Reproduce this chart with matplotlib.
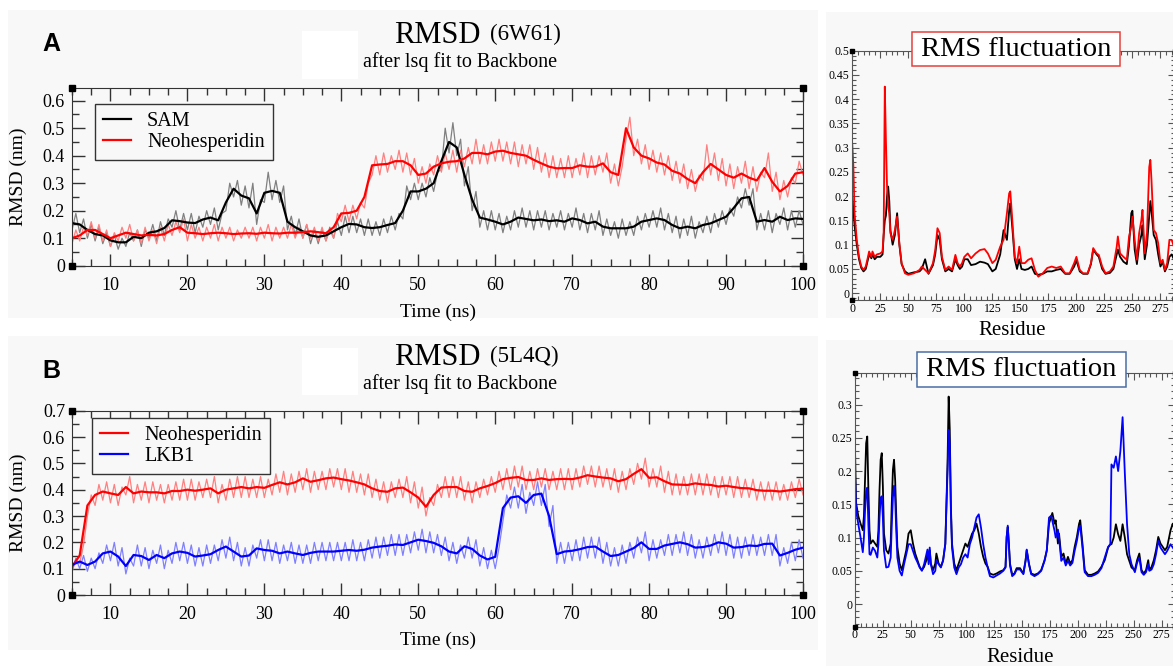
import numpy as np
import matplotlib.pyplot as plt
from matplotlib.patches import Rectangle
from matplotlib.ticker import MultipleLocator, FuncFormatter

plt.rcParams['font.family'] = ['Liberation Serif', 'DejaVu Serif']

W, H = 1173, 666

# ---- RMSD data (nm), time in ns ----
t_avg = np.arange(5, 101, 1)          # running average, every 1 ns
t_raw = np.arange(5, 100.01, 0.5)     # raw trace, every 0.5 ns

# panel A (6W61)
sam_avg = [0.155, 0.15, 0.13, 0.115, 0.11, 0.092, 0.085, 0.085, 0.105, 0.1,
           0.12, 0.125, 0.137, 0.165, 0.162, 0.157, 0.155, 0.168, 0.175, 0.165,
           0.23, 0.28, 0.255, 0.245, 0.19, 0.265, 0.272, 0.265, 0.16, 0.14,
           0.125, 0.11, 0.105, 0.11, 0.125, 0.14, 0.152, 0.15, 0.14, 0.137,
           0.14, 0.148, 0.155, 0.2, 0.27, 0.27, 0.28, 0.3, 0.38, 0.45,
           0.43, 0.33, 0.24, 0.175, 0.168, 0.16, 0.15, 0.16, 0.175, 0.17,
           0.165, 0.168, 0.162, 0.165, 0.16, 0.172, 0.166, 0.154, 0.16, 0.142,
           0.136, 0.136, 0.136, 0.142, 0.16, 0.166, 0.172, 0.166, 0.148, 0.136,
           0.142, 0.136, 0.148, 0.154, 0.166, 0.178, 0.21, 0.245, 0.25, 0.16,
           0.166, 0.16, 0.178, 0.166, 0.172, 0.17]
sam_raw = [0.13, 0.19, 0.12, 0.17, 0.10, 0.15, 0.09, 0.14, 0.08, 0.12,
           0.07, 0.11, 0.06, 0.10, 0.07, 0.12, 0.09, 0.13, 0.07, 0.13,
           0.10, 0.15, 0.09, 0.16, 0.11, 0.17, 0.14, 0.20, 0.13, 0.19,
           0.13, 0.19, 0.12, 0.18, 0.14, 0.20, 0.15, 0.21, 0.13, 0.19,
           0.20, 0.30, 0.25, 0.31, 0.22, 0.29, 0.21, 0.30, 0.15, 0.24,
           0.23, 0.34, 0.24, 0.31, 0.23, 0.29, 0.13, 0.18, 0.11, 0.17,
           0.10, 0.15, 0.08, 0.13, 0.08, 0.13, 0.09, 0.14, 0.10, 0.16,
           0.11, 0.18, 0.12, 0.18, 0.12, 0.17, 0.11, 0.17, 0.11, 0.16,
           0.11, 0.17, 0.12, 0.18, 0.13, 0.19, 0.17, 0.29, 0.24, 0.30,
           0.24, 0.30, 0.25, 0.32, 0.27, 0.34, 0.35, 0.50, 0.41, 0.52,
           0.40, 0.46, 0.29, 0.36, 0.20, 0.27, 0.14, 0.20, 0.13, 0.20,
           0.13, 0.19, 0.12, 0.18, 0.13, 0.20, 0.14, 0.21, 0.14, 0.20,
           0.13, 0.20, 0.14, 0.20, 0.13, 0.19, 0.14, 0.20, 0.13, 0.19,
           0.14, 0.21, 0.13, 0.19, 0.12, 0.19, 0.13, 0.20, 0.11, 0.17,
           0.11, 0.16, 0.10, 0.17, 0.11, 0.16, 0.11, 0.18, 0.13, 0.19,
           0.14, 0.20, 0.14, 0.21, 0.13, 0.19, 0.12, 0.18, 0.10, 0.17,
           0.11, 0.18, 0.10, 0.16, 0.12, 0.18, 0.12, 0.19, 0.14, 0.20,
           0.15, 0.21, 0.18, 0.25, 0.21, 0.28, 0.22, 0.28, 0.13, 0.19,
           0.13, 0.20, 0.12, 0.19, 0.15, 0.21, 0.13, 0.20, 0.14, 0.20,
           0.15]
neoA_avg = [0.1, 0.11, 0.13, 0.13, 0.115, 0.1, 0.11, 0.12, 0.115, 0.11,
            0.112, 0.11, 0.115, 0.13, 0.14, 0.12, 0.118, 0.115, 0.118, 0.12,
            0.118, 0.115, 0.117, 0.118, 0.116, 0.12, 0.118, 0.117, 0.12, 0.12,
            0.122, 0.125, 0.122, 0.118, 0.14, 0.19, 0.192, 0.2, 0.25, 0.365,
            0.368, 0.37, 0.38, 0.38, 0.365, 0.33, 0.335, 0.36, 0.372, 0.378,
            0.38, 0.39, 0.41, 0.41, 0.405, 0.415, 0.418, 0.41, 0.405, 0.4,
            0.385, 0.372, 0.36, 0.354, 0.355, 0.355, 0.365, 0.36, 0.36, 0.372,
            0.34, 0.33, 0.5, 0.43, 0.4, 0.39, 0.375, 0.368, 0.345, 0.335,
            0.315, 0.3, 0.34, 0.37, 0.35, 0.33, 0.32, 0.335, 0.32, 0.31,
            0.355, 0.305, 0.27, 0.29, 0.335, 0.34]
neoA_raw = [0.08, 0.13, 0.09, 0.14, 0.11, 0.16, 0.10, 0.15, 0.09, 0.13,
            0.07, 0.12, 0.09, 0.14, 0.10, 0.15, 0.09, 0.13, 0.08, 0.14,
            0.09, 0.13, 0.08, 0.14, 0.09, 0.15, 0.11, 0.16, 0.12, 0.17,
            0.09, 0.15, 0.10, 0.14, 0.09, 0.14, 0.10, 0.15, 0.09, 0.14,
            0.10, 0.14, 0.09, 0.13, 0.10, 0.14, 0.10, 0.14, 0.09, 0.14,
            0.10, 0.15, 0.09, 0.14, 0.10, 0.14, 0.10, 0.15, 0.10, 0.14,
            0.10, 0.15, 0.10, 0.14, 0.09, 0.14, 0.09, 0.13, 0.10, 0.19,
            0.16, 0.22, 0.16, 0.22, 0.17, 0.23, 0.21, 0.30, 0.33, 0.40,
            0.33, 0.41, 0.34, 0.40, 0.35, 0.42, 0.34, 0.41, 0.33, 0.39,
            0.30, 0.36, 0.30, 0.37, 0.33, 0.40, 0.34, 0.41, 0.35, 0.42,
            0.34, 0.42, 0.36, 0.43, 0.37, 0.46, 0.37, 0.44, 0.37, 0.45,
            0.38, 0.46, 0.38, 0.45, 0.37, 0.45, 0.36, 0.44, 0.37, 0.44,
            0.35, 0.43, 0.34, 0.41, 0.32, 0.40, 0.32, 0.39, 0.32, 0.40,
            0.32, 0.39, 0.33, 0.41, 0.32, 0.40, 0.33, 0.40, 0.34, 0.41,
            0.30, 0.37, 0.29, 0.36, 0.46, 0.54, 0.40, 0.46, 0.37, 0.44,
            0.35, 0.42, 0.34, 0.41, 0.33, 0.40, 0.31, 0.38, 0.30, 0.37,
            0.28, 0.35, 0.27, 0.33, 0.31, 0.44, 0.33, 0.41, 0.31, 0.39,
            0.29, 0.37, 0.28, 0.36, 0.30, 0.38, 0.28, 0.36, 0.27, 0.34,
            0.32, 0.41, 0.27, 0.34, 0.24, 0.31, 0.25, 0.32, 0.30, 0.38,
            0.33]

# panel B (5L4Q)
neoB_avg = [0.108, 0.15, 0.34, 0.38, 0.393, 0.386, 0.38, 0.41, 0.386, 0.393,
            0.39, 0.39, 0.386, 0.395, 0.395, 0.4, 0.396, 0.4, 0.405, 0.386,
            0.4, 0.405, 0.41, 0.405, 0.41, 0.407, 0.418, 0.428, 0.42, 0.428,
            0.443, 0.43, 0.436, 0.443, 0.446, 0.44, 0.435, 0.428, 0.42, 0.405,
            0.395, 0.392, 0.405, 0.408, 0.39, 0.37, 0.335, 0.38, 0.408, 0.41,
            0.41, 0.395, 0.392, 0.405, 0.414, 0.425, 0.44, 0.445, 0.448, 0.437,
            0.437, 0.443, 0.437, 0.44, 0.441, 0.44, 0.446, 0.455, 0.45, 0.446,
            0.443, 0.432, 0.44, 0.46, 0.478, 0.445, 0.447, 0.432, 0.42, 0.419,
            0.418, 0.424, 0.42, 0.418, 0.412, 0.415, 0.41, 0.406, 0.405, 0.398,
            0.396, 0.396, 0.393, 0.397, 0.402, 0.404]
neoB_raw = [0.09, 0.13, 0.12, 0.19, 0.30, 0.38, 0.34, 0.42, 0.36, 0.43,
            0.35, 0.42, 0.34, 0.41, 0.38, 0.45, 0.35, 0.42, 0.36, 0.43,
            0.35, 0.43, 0.36, 0.42, 0.35, 0.42, 0.36, 0.43, 0.36, 0.44,
            0.36, 0.44, 0.36, 0.43, 0.37, 0.44, 0.37, 0.45, 0.35, 0.42,
            0.36, 0.44, 0.37, 0.45, 0.37, 0.45, 0.37, 0.44, 0.37, 0.45,
            0.37, 0.44, 0.38, 0.46, 0.39, 0.47, 0.38, 0.46, 0.39, 0.47,
            0.40, 0.48, 0.39, 0.47, 0.40, 0.47, 0.40, 0.48, 0.41, 0.48,
            0.40, 0.48, 0.39, 0.47, 0.39, 0.46, 0.38, 0.46, 0.37, 0.44,
            0.36, 0.43, 0.35, 0.43, 0.37, 0.44, 0.37, 0.45, 0.35, 0.43,
            0.33, 0.41, 0.30, 0.37, 0.34, 0.42, 0.37, 0.45, 0.37, 0.45,
            0.37, 0.45, 0.36, 0.43, 0.35, 0.43, 0.37, 0.44, 0.38, 0.45,
            0.39, 0.47, 0.40, 0.48, 0.40, 0.49, 0.41, 0.49, 0.40, 0.47,
            0.40, 0.48, 0.41, 0.48, 0.40, 0.47, 0.40, 0.48, 0.40, 0.48,
            0.40, 0.48, 0.41, 0.49, 0.42, 0.49, 0.41, 0.49, 0.41, 0.48,
            0.40, 0.48, 0.39, 0.47, 0.40, 0.48, 0.42, 0.50, 0.44, 0.52,
            0.41, 0.48, 0.41, 0.49, 0.39, 0.47, 0.38, 0.46, 0.38, 0.45,
            0.38, 0.46, 0.38, 0.46, 0.38, 0.46, 0.38, 0.45, 0.37, 0.45,
            0.38, 0.45, 0.37, 0.45, 0.37, 0.44, 0.37, 0.44, 0.36, 0.43,
            0.36, 0.43, 0.36, 0.43, 0.36, 0.42, 0.36, 0.43, 0.37, 0.44,
            0.38]
lkb1_avg = [0.114, 0.127, 0.114, 0.127, 0.158, 0.165, 0.146, 0.11, 0.152, 0.148,
            0.133, 0.152, 0.14, 0.158, 0.165, 0.16, 0.146, 0.15, 0.155, 0.171,
            0.184, 0.165, 0.146, 0.15, 0.177, 0.171, 0.168, 0.158, 0.165, 0.158,
            0.152, 0.16, 0.165, 0.165, 0.165, 0.168, 0.171, 0.168, 0.172, 0.18,
            0.184, 0.187, 0.192, 0.19, 0.2, 0.21, 0.205, 0.198, 0.185, 0.165,
            0.158, 0.185, 0.175, 0.15, 0.135, 0.145, 0.33, 0.37, 0.375, 0.35,
            0.38, 0.385, 0.3, 0.155, 0.165, 0.168, 0.174, 0.182, 0.184, 0.165,
            0.148, 0.152, 0.165, 0.178, 0.2, 0.175, 0.175, 0.188, 0.194, 0.2,
            0.193, 0.18, 0.182, 0.188, 0.2, 0.195, 0.18, 0.182, 0.188, 0.186,
            0.194, 0.195, 0.15, 0.16, 0.172, 0.18]
lkb1_raw = [0.09, 0.14, 0.10, 0.15, 0.09, 0.14, 0.10, 0.16, 0.12, 0.19,
            0.13, 0.20, 0.11, 0.18, 0.08, 0.14, 0.11, 0.19, 0.11, 0.18,
            0.10, 0.17, 0.12, 0.19, 0.10, 0.17, 0.12, 0.20, 0.13, 0.20,
            0.12, 0.19, 0.11, 0.18, 0.11, 0.19, 0.12, 0.19, 0.13, 0.21,
            0.14, 0.22, 0.13, 0.20, 0.11, 0.18, 0.11, 0.19, 0.14, 0.21,
            0.13, 0.21, 0.13, 0.20, 0.12, 0.19, 0.13, 0.20, 0.12, 0.19,
            0.12, 0.19, 0.12, 0.20, 0.13, 0.20, 0.13, 0.20, 0.13, 0.20,
            0.13, 0.20, 0.13, 0.21, 0.13, 0.20, 0.13, 0.21, 0.14, 0.22,
            0.14, 0.22, 0.15, 0.23, 0.15, 0.23, 0.15, 0.23, 0.16, 0.24,
            0.17, 0.25, 0.16, 0.24, 0.16, 0.23, 0.15, 0.22, 0.13, 0.20,
            0.12, 0.19, 0.14, 0.22, 0.14, 0.21, 0.11, 0.18, 0.10, 0.17,
            0.10, 0.18, 0.28, 0.38, 0.33, 0.41, 0.33, 0.42, 0.31, 0.39,
            0.34, 0.43, 0.34, 0.42, 0.26, 0.34, 0.12, 0.20, 0.12, 0.20,
            0.13, 0.21, 0.13, 0.22, 0.14, 0.22, 0.14, 0.22, 0.12, 0.20,
            0.11, 0.18, 0.11, 0.19, 0.12, 0.20, 0.14, 0.22, 0.16, 0.24,
            0.13, 0.21, 0.14, 0.21, 0.15, 0.23, 0.15, 0.23, 0.16, 0.24,
            0.15, 0.23, 0.14, 0.21, 0.14, 0.22, 0.15, 0.23, 0.16, 0.24,
            0.15, 0.23, 0.14, 0.22, 0.14, 0.22, 0.15, 0.23, 0.15, 0.22,
            0.15, 0.23, 0.15, 0.23, 0.11, 0.18, 0.12, 0.20, 0.13, 0.21,
            0.14]

# ---- RMSF data (nm) per residue ----
res_top = [0, 1, 2, 4, 6, 8, 10, 12, 14, 15,
           17, 18, 20, 22, 25, 27, 28, 29, 30, 31,
           32, 33, 34, 36, 38, 40, 42, 44, 47, 50,
           55, 60, 62, 65, 68, 72, 74, 76, 78, 80,
           83, 86, 89, 92, 94, 96, 98, 100, 103, 106,
           110, 114, 118, 121, 125, 128, 132, 135, 138, 140,
           141, 143, 145, 147, 149, 151, 154, 157, 160, 163,
           166, 170, 174, 178, 182, 186, 190, 194, 198, 200,
           203, 206, 210, 213, 215, 218, 220, 223, 226, 230,
           233, 236, 237, 239, 242, 245, 247, 249, 250, 252,
           254, 256, 258, 259, 261, 263, 265, 266, 267, 269,
           271, 273, 275, 277, 279, 281, 283, 285, 287, 290]
rmsf_top_neo = [0.306, 0.26, 0.165, 0.11, 0.075, 0.055, 0.048, 0.055, 0.075, 0.086,
                0.075, 0.086, 0.075, 0.08, 0.082, 0.086, 0.124, 0.426, 0.316, 0.22,
                0.179, 0.165, 0.124, 0.11, 0.13, 0.158, 0.103, 0.062, 0.041, 0.038,
                0.041, 0.048, 0.055, 0.048, 0.041, 0.062, 0.089, 0.134, 0.124, 0.075,
                0.048, 0.055, 0.048, 0.079, 0.062, 0.055, 0.062, 0.075, 0.082, 0.072,
                0.082, 0.089, 0.091, 0.082, 0.062, 0.069, 0.096, 0.11, 0.165, 0.206,
                0.21, 0.144, 0.075, 0.062, 0.096, 0.062, 0.062, 0.069, 0.072, 0.048,
                0.034, 0.041, 0.052, 0.055, 0.052, 0.055, 0.041, 0.041, 0.062, 0.075,
                0.048, 0.041, 0.041, 0.062, 0.093, 0.082, 0.079, 0.055, 0.041, 0.045,
                0.055, 0.096, 0.117, 0.082, 0.075, 0.069, 0.117, 0.137, 0.158, 0.11,
                0.069, 0.124, 0.151, 0.172, 0.082, 0.124, 0.26, 0.275, 0.234, 0.13,
                0.124, 0.103, 0.062, 0.069, 0.048, 0.062, 0.11, 0.11, 0.096, 0.09]
rmsf_top_sam = [0.2, 0.17, 0.14, 0.1, 0.07, 0.052, 0.045, 0.05, 0.07, 0.08,
                0.072, 0.08, 0.07, 0.075, 0.075, 0.08, 0.12, 0.15, 0.16, 0.2,
                0.22, 0.19, 0.13, 0.1, 0.12, 0.165, 0.1, 0.06, 0.045, 0.04,
                0.043, 0.045, 0.05, 0.07, 0.04, 0.058, 0.08, 0.12, 0.11, 0.07,
                0.045, 0.05, 0.045, 0.07, 0.058, 0.05, 0.055, 0.07, 0.07, 0.058,
                0.06, 0.065, 0.063, 0.06, 0.045, 0.05, 0.08, 0.13, 0.11, 0.17,
                0.185, 0.13, 0.07, 0.05, 0.07, 0.05, 0.048, 0.05, 0.055, 0.04,
                0.038, 0.04, 0.045, 0.045, 0.048, 0.05, 0.04, 0.04, 0.055, 0.068,
                0.045, 0.04, 0.04, 0.06, 0.09, 0.08, 0.075, 0.05, 0.04, 0.042,
                0.05, 0.08, 0.09, 0.075, 0.065, 0.06, 0.1, 0.165, 0.17, 0.09,
                0.06, 0.1, 0.12, 0.14, 0.07, 0.1, 0.16, 0.19, 0.17, 0.12,
                0.11, 0.08, 0.055, 0.065, 0.045, 0.055, 0.075, 0.08, 0.07, 0.07]

res_bot = [0, 1, 3, 5, 7, 8, 9, 10, 11, 12,
           13, 14, 16, 18, 20, 21, 22, 23, 24, 25,
           26, 28, 30, 32, 33, 34, 35, 36, 37, 38,
           40, 42, 44, 46, 48, 50, 52, 54, 56, 58,
           60, 62, 64, 65, 66, 67, 68, 70, 72, 73,
           75, 77, 79, 81, 83, 84, 85, 86, 87, 89,
           91, 93, 95, 97, 99, 101, 103, 105, 107, 109,
           111, 113, 115, 117, 119, 121, 124, 127, 130, 133,
           135, 136, 137, 138, 139, 141, 143, 145, 148, 151,
           153, 154, 156, 158, 161, 164, 167, 170, 172, 174,
           176, 177, 179, 180, 182, 183, 185, 187, 189, 191,
           193, 195, 197, 199, 201, 202, 204, 206, 209, 212,
           215, 218, 221, 224, 227, 229, 230, 232, 234, 236,
           238, 240, 242, 244, 246, 248, 251, 253, 255, 257,
           259, 261, 263, 264, 266, 268, 270, 272, 274, 276,
           278, 280, 283, 285, 287, 290]
rmsf_bot_neo = [0.232, 0.152, 0.132, 0.121, 0.111, 0.132, 0.187, 0.242, 0.252, 0.172,
                0.111, 0.091, 0.096, 0.091, 0.086, 0.111, 0.172, 0.217, 0.227, 0.177,
                0.106, 0.081, 0.076, 0.091, 0.152, 0.202, 0.217, 0.187, 0.132, 0.086,
                0.061, 0.051, 0.066, 0.081, 0.106, 0.111, 0.091, 0.076, 0.066, 0.056,
                0.051, 0.056, 0.066, 0.076, 0.066, 0.081, 0.061, 0.051, 0.061, 0.076,
                0.061, 0.056, 0.066, 0.091, 0.212, 0.312, 0.262, 0.147, 0.091, 0.061,
                0.051, 0.061, 0.071, 0.081, 0.091, 0.086, 0.096, 0.106, 0.111, 0.121,
                0.106, 0.086, 0.071, 0.061, 0.056, 0.046, 0.044, 0.046, 0.049, 0.051,
                0.056, 0.101, 0.116, 0.091, 0.061, 0.044, 0.046, 0.054, 0.054, 0.046,
                0.066, 0.081, 0.061, 0.046, 0.044, 0.046, 0.051, 0.066, 0.081, 0.121,
                0.132, 0.137, 0.121, 0.126, 0.091, 0.106, 0.071, 0.076, 0.061, 0.071,
                0.061, 0.066, 0.086, 0.101, 0.121, 0.126, 0.091, 0.051, 0.044, 0.044,
                0.046, 0.049, 0.056, 0.066, 0.085, 0.09, 0.09, 0.1, 0.12, 0.105,
                0.095, 0.12, 0.1, 0.075, 0.065, 0.055, 0.051, 0.066, 0.076, 0.051,
                0.046, 0.051, 0.066, 0.051, 0.056, 0.066, 0.081, 0.101, 0.091, 0.086,
                0.081, 0.086, 0.111, 0.121, 0.111, 0.1]
rmsf_bot_lkb1 = [0.195, 0.14, 0.12, 0.1, 0.078, 0.1, 0.14, 0.17, 0.175, 0.12,
                 0.075, 0.074, 0.085, 0.08, 0.07, 0.09, 0.13, 0.16, 0.162, 0.13,
                 0.08, 0.055, 0.056, 0.07, 0.12, 0.16, 0.178, 0.16, 0.11, 0.07,
                 0.05, 0.043, 0.06, 0.075, 0.09, 0.09, 0.08, 0.07, 0.063, 0.055,
                 0.05, 0.06, 0.075, 0.082, 0.06, 0.085, 0.06, 0.045, 0.05, 0.065,
                 0.06, 0.055, 0.065, 0.09, 0.2, 0.262, 0.24, 0.14, 0.085, 0.055,
                 0.045, 0.055, 0.06, 0.07, 0.075, 0.07, 0.09, 0.1, 0.115, 0.13,
                 0.135, 0.115, 0.09, 0.07, 0.055, 0.042, 0.04, 0.043, 0.046, 0.05,
                 0.055, 0.1, 0.118, 0.09, 0.058, 0.042, 0.045, 0.052, 0.052, 0.045,
                 0.065, 0.082, 0.06, 0.045, 0.042, 0.045, 0.05, 0.065, 0.08, 0.13,
                 0.133, 0.125, 0.11, 0.1, 0.112, 0.1, 0.065, 0.07, 0.058, 0.065,
                 0.058, 0.062, 0.08, 0.095, 0.115, 0.118, 0.085, 0.048, 0.042, 0.042,
                 0.044, 0.047, 0.054, 0.07, 0.086, 0.09, 0.21, 0.205, 0.222, 0.2,
                 0.23, 0.281, 0.197, 0.12, 0.075, 0.06, 0.048, 0.062, 0.07, 0.048,
                 0.044, 0.048, 0.06, 0.05, 0.052, 0.06, 0.075, 0.095, 0.085, 0.08,
                 0.075, 0.08, 0.09, 0.085, 0.08, 0.075]

RED, BLUE = '#ff0000', '#0000ff'
RED_L, BLUE_L, GREY_L = '#ff8080', '#8080ff', '#808080'
PANEL = '#f8f8f8'


def fbox(x0, y0, x1, y1):
    # pixel box (top-left origin) -> figure fraction rect
    return [x0 / W, 1 - y1 / H, (x1 - x0) / W, (y1 - y0) / H]


def zero_fmt(v, p):
    return '0' if abs(v) < 1e-9 else f'{v:g}'


def corners(ax, ms):
    ax.plot([0, 0, 1, 1], [0, 1, 0, 1], 's', ms=ms, color='k',
            transform=ax.transAxes, clip_on=False, zorder=6)


def style_rmsd(ax, ymax):
    ax.set_xlim(5, 100)
    ax.set_ylim(0, ymax)
    ax.set_facecolor('none')
    ax.xaxis.set_major_locator(MultipleLocator(10))
    ax.xaxis.set_minor_locator(MultipleLocator(2.5))
    ax.yaxis.set_major_locator(MultipleLocator(0.1))
    ax.yaxis.set_minor_locator(MultipleLocator(0.05))
    ax.yaxis.set_major_formatter(FuncFormatter(zero_fmt))
    ax.tick_params(which='both', direction='in', top=True, right=True,
                   labelsize=13, color='#333333', width=1)
    ax.tick_params(which='major', length=9)
    ax.tick_params(which='minor', length=5)
    ax.tick_params(axis='x', pad=8)
    ax.tick_params(axis='y', pad=5)
    for s in ax.spines.values():
        s.set_color('#333333')
    ax.set_xlabel('Time (ns)', fontsize=14)
    ax.set_ylabel('RMSD (nm)', fontsize=14)
    ax.yaxis.set_label_coords(-0.062, 0.5)
    corners(ax, 5)


def style_rmsf(ax, ylo, yhi, xhi):
    ax.set_xlim(0, xhi)
    ax.set_ylim(ylo, yhi)
    ax.set_facecolor('none')
    ax.xaxis.set_major_locator(MultipleLocator(25))
    ax.xaxis.set_minor_locator(MultipleLocator(5))
    ax.yaxis.set_major_locator(MultipleLocator(0.05))
    ax.yaxis.set_minor_locator(MultipleLocator(0.01))
    ax.yaxis.set_major_formatter(FuncFormatter(zero_fmt))
    ax.tick_params(which='both', direction='in', top=True, right=True,
                   labelsize=8.5, color='#555555', width=0.8, pad=2)
    ax.tick_params(which='major', length=5)
    ax.tick_params(which='minor', length=3)
    for s in ax.spines.values():
        s.set_color('#555555')
    corners(ax, 3.5)


fig = plt.figure(figsize=(W / 100, H / 100), dpi=100)

# panel backgrounds
for x0, y0, x1, y1 in [(8, 10, 818, 318), (8, 336, 818, 650),
                       (826, 12, 1173, 318), (826, 340, 1173, 666)]:
    fig.patches.append(Rectangle((x0 / W, 1 - y1 / H), (x1 - x0) / W, (y1 - y0) / H,
                                 transform=fig.transFigure, fc=PANEL, ec='none', zorder=-10))
for x0, y0, x1, y1 in [(302, 31, 358, 79), (302, 348, 358, 395)]:
    fig.patches.append(Rectangle((x0 / W, 1 - y1 / H), (x1 - x0) / W, (y1 - y0) / H,
                                 transform=fig.transFigure, fc='white', ec='none', zorder=-5))

leg_kw = dict(loc='upper left', borderaxespad=0, fontsize=14.5, fancybox=False,
              edgecolor='#333333', facecolor=PANEL, framealpha=1, handlelength=1.4,
              handletextpad=0.8, borderpad=0.4, labelspacing=0.1)

# ---- A: RMSD 6W61 ----
axA = fig.add_axes(fbox(72, 88.3, 803, 265.7))
axA.plot(t_raw, sam_raw, color=GREY_L, lw=0.9)
axA.plot(t_raw, neoA_raw, color=RED_L, lw=0.9)
hA1, = axA.plot(t_avg, sam_avg, color='black', lw=1.6, label='SAM')
hA2, = axA.plot(t_avg, neoA_avg, color=RED, lw=1.6, label='Neohesperidin')
style_rmsd(axA, 0.645)
axA.xaxis.set_label_coords(0.5, -0.215)
legA = axA.legend(handles=[hA1, hA2], bbox_to_anchor=(0.031, 0.911), **leg_kw)
legA.get_frame().set_linewidth(1.0)

# ---- B: RMSD 5L4Q ----
axB = fig.add_axes(fbox(72, 410.7, 803, 595))
axB.plot(t_raw, neoB_raw, color=RED_L, lw=0.9)
axB.plot(t_raw, lkb1_raw, color=BLUE_L, lw=0.9)
hB1, = axB.plot(t_avg, neoB_avg, color=RED, lw=1.6, label='Neohesperidin')
hB2, = axB.plot(t_avg, lkb1_avg, color=BLUE, lw=1.6, label='LKB1')
style_rmsd(axB, 0.7)
axB.xaxis.set_label_coords(0.5, -0.2)
legB = axB.legend(handles=[hB1, hB2], bbox_to_anchor=(0.027, 0.96), **leg_kw)
legB.get_frame().set_linewidth(1.0)

# ---- RMSF panels ----
axR1 = fig.add_axes(fbox(852.3, 50.7, 1175, 300))
axR1.plot(res_top, rmsf_top_sam, color='black', lw=1.3)
axR1.plot(res_top, rmsf_top_neo, color=RED, lw=1.3)
style_rmsf(axR1, -0.014, 0.5, 288)

axR2 = fig.add_axes(fbox(855, 373.3, 1175, 626.7))
axR2.plot(res_bot, rmsf_bot_neo, color='black', lw=1.3)
axR2.plot(res_bot, rmsf_bot_lkb1, color=BLUE, lw=1.3)
style_rmsf(axR2, -0.034, 0.347, 287)

# RMS fluctuation title boxes
for (x0, y0, x1, y1), ec in [((912, 32, 1120, 66), '#e5403c'),
                             ((917, 352, 1126, 387), '#4a6fa5')]:
    fig.patches.append(Rectangle((x0 / W, 1 - y1 / H), (x1 - x0) / W, (y1 - y0) / H,
                                 transform=fig.transFigure, fc='white', ec=ec, lw=1.1, zorder=5))
    fig.text((x0 + x1) / 2 / W, 1 - (y0 + y1) / 2 / H, 'RMS fluctuation', fontsize=20.5,
             ha='center', va='center', zorder=6)

fig.text(1012 / W, 1 - 330 / H, 'Residue', fontsize=15, ha='center', va='center')
fig.text(1020 / W, 1 - 657 / H, 'Residue', fontsize=15, ha='center', va='center')

# titles
for yb, code in [(0, '(6W61)'), (322, '(5L4Q)')]:
    fig.text(394 / W, 1 - (43 + yb) / H, 'RMSD', fontsize=22, va='baseline')
    fig.text(490 / W, 1 - (40 + yb) / H, code, fontsize=16.5, va='baseline')
    fig.text(363 / W, 1 - (67 + yb) / H, 'after lsq fit to Backbone', fontsize=14.5,
             va='baseline')

fig.text(51 / W, 1 - 44 / H, 'A', family=['Liberation Sans'], weight='bold',
         fontsize=18, ha='center', va='center')
fig.text(51 / W, 1 - 371 / H, 'B', family=['Liberation Sans'], weight='bold',
         fontsize=18, ha='center', va='center')

fig.savefig('out.png', dpi=100)
